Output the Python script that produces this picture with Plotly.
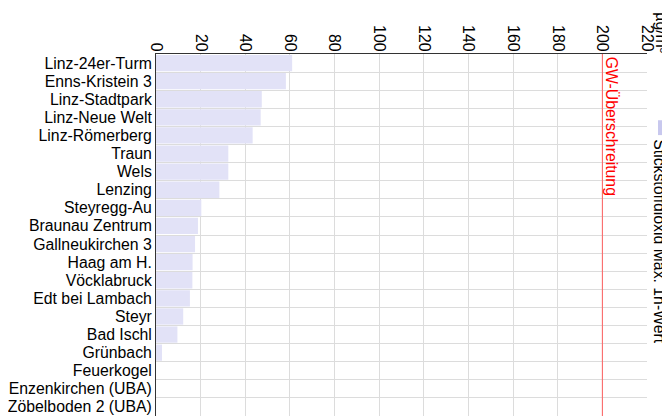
import plotly.graph_objects as go

stations = ["Linz-24er-Turm", "Enns-Kristein 3", "Linz-Stadtpark", "Linz-Neue Welt",
            "Linz-Römerberg", "Traun", "Wels", "Lenzing", "Steyregg-Au", "Braunau Zentrum",
            "Gallneukirchen 3", "Haag am H.", "Vöcklabruck", "Edt bei Lambach", "Steyr",
            "Bad Ischl", "Grünbach", "Feuerkogel", "Enzenkirchen (UBA)", "Zöbelboden 2 (UBA)"]
no2_max = [61, 58.2, 47.4, 46.9, 43.3, 32.4, 32.4, 28.4, 20.3, 18.8,
           17.5, 16.4, 16.3, 15.2, 12.2, 9.6, 2.7, 0, 0, 0]
limit = 200
x_ticks = [0, 20, 40, 60, 80, 100, 120, 140, 160, 180, 200, 220]
series_name = "Stickstoffdioxid Max. 1h-Wert"
unit = "µg/m³"
limit_label = "GW-Überschreitung"

FONT = "Liberation Sans, Arial, sans-serif"
FS = 15.8

fig = go.Figure()
fig.add_trace(go.Bar(
    y=stations, x=no2_max, orientation="h", name=series_name,
    marker=dict(color="#e2e2f7", line=dict(width=0)),
    showlegend=False,
))

fig.add_shape(type="line", xref="x", yref="paper", x0=limit, x1=limit, y0=0, y1=1,
              line=dict(color="#ff6060", width=1))
fig.add_annotation(x=limit, xref="x", y=1, yref="paper", text=limit_label,
                   textangle=90, xanchor="left", yanchor="top", showarrow=False,
                   font=dict(color="red", size=FS, family=FONT), xshift=-1, yshift=-1)

# legend (rotated)
fig.add_shape(type="rect", xref="paper", yref="paper", x0=1.0224, x1=1.06,
              y0=0.776, y1=0.817, fillcolor="#c8c8ee", line=dict(width=0))
fig.add_annotation(x=1.025, xref="paper", y=0.482, yref="paper", text=series_name,
                   textangle=90, xanchor="center", yanchor="middle", showarrow=False,
                   font=dict(color="black", size=FS, family=FONT))
fig.add_annotation(x=1.03, xref="paper", y=1.058, yref="paper", text=unit,
                   textangle=90, xanchor="center", yanchor="middle", showarrow=False,
                   font=dict(color="black", size=FS, family=FONT))

fig.update_layout(
    width=670, height=416,
    margin=dict(l=148, r=31, t=46, b=8),
    plot_bgcolor="white", paper_bgcolor="white",
    bargap=0.1,
    font=dict(family=FONT, size=FS, color="black"),
    xaxis=dict(side="top", range=[0, 220], tickvals=x_ticks, tickangle=90,
               showgrid=True, gridcolor="#dcdcdc", zeroline=False, automargin=False,
               showline=True, linecolor="#333", mirror=True, ticks="", ticklen=0,
               ticklabelstandoff=-4, tickfont=dict(size=FS)),
    yaxis=dict(autorange="reversed", type="category", tickson="boundaries",
               tickmode="array", tickvals=stations, ticktext=stations,
               showgrid=True, gridcolor="#dcdcdc", showline=True, linecolor="#333",
               ticks="", ticklen=0, tickfont=dict(size=FS), automargin=False),
)

fig.write_html("out.html")
